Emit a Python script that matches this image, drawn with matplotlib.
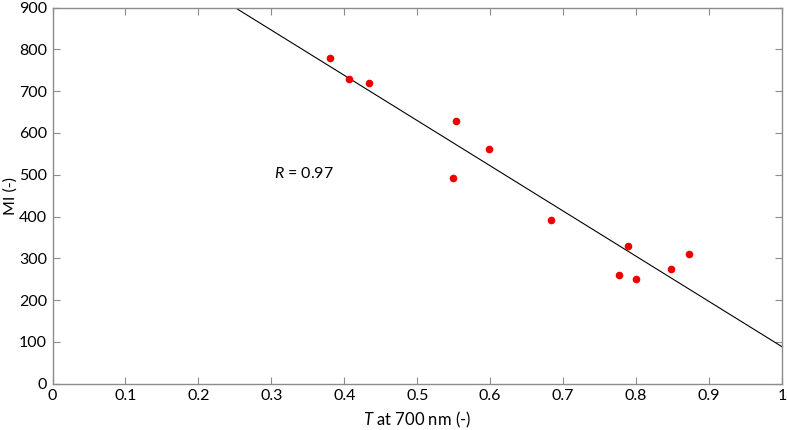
import numpy as np
import matplotlib.pyplot as plt

# transmittance at 700 nm vs MI
T = [0.380, 0.407, 0.434, 0.553, 0.599, 0.549, 0.683, 0.789, 0.776, 0.800, 0.848, 0.873]
MI = [778, 728, 719, 628, 561, 491, 392, 329, 260, 250, 275, 311]

# regression line MI = a*T + b
fit_a = -1082.0
fit_b = 1170.5

plt.rcParams['font.family'] = ['Lato', 'DejaVu Sans']
plt.rcParams['mathtext.fontset'] = 'custom'
plt.rcParams['mathtext.it'] = 'Lato:italic'
plt.rcParams['mathtext.rm'] = 'Lato'

fig = plt.figure(figsize=(7.87, 4.30), dpi=100)
ax = fig.add_axes([52.5 / 787, 1 - 383.7 / 430, 729.5 / 787, 376.2 / 430])

xl = np.array([0, 1])
ax.plot(xl, fit_a * xl + fit_b, color='black', lw=0.8, zorder=2)
ax.plot(T, MI, 'o', color='#ee0000', markersize=5.5, markeredgewidth=0, zorder=3)

ax.set_xlim(0, 1)
ax.set_ylim(0, 900)
ax.set_xticks(np.arange(0, 1.01, 0.1))
ax.set_xticklabels(['0', '0.1', '0.2', '0.3', '0.4', '0.5', '0.6', '0.7', '0.8', '0.9', '1'])
ax.set_yticks(np.arange(0, 901, 100))

for s in ax.spines.values():
    s.set_color('#8c8c8c')
    s.set_linewidth(1.0)
ax.tick_params(direction='in', top=True, right=True, length=5, width=0.8,
               color='#8c8c8c', labelsize=11.5, labelcolor='black', pad=4)

ax.text(0.3036, 502, '$R$ = 0.97', fontsize=11.5, va='center', ha='left')

ax.set_xlabel('$T$ at 700 nm (-)', fontsize=12, labelpad=5)
ax.set_ylabel('MI (-)', fontsize=11.5)
ax.yaxis.set_label_coords(-0.047, 0.5)

fig.savefig('out.png', dpi=100)
